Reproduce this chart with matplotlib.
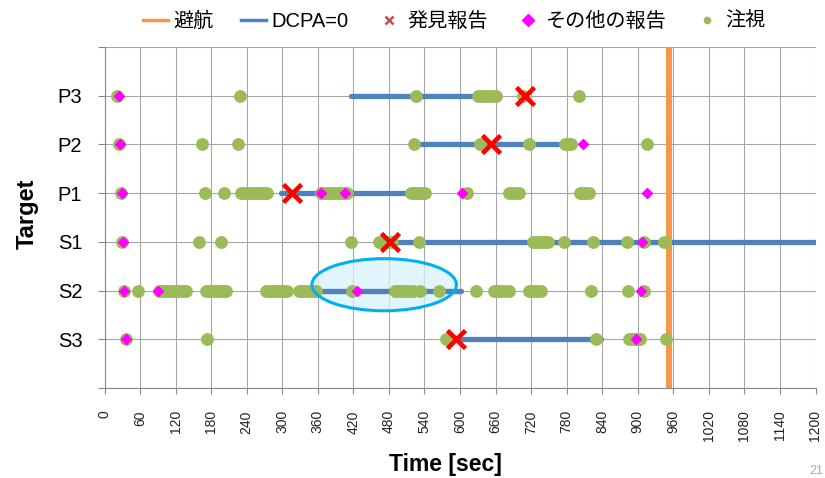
import matplotlib
matplotlib.use("Agg")
import matplotlib.pyplot as plt
from matplotlib.patches import Ellipse
from matplotlib.lines import Line2D

plt.rcParams['font.family'] = ['Liberation Sans', 'Noto Sans CJK JP', 'DejaVu Sans']

# ---------------- data ----------------
targets = ['S3', 'S2', 'S1', 'P1', 'P2', 'P3']
xticks = list(range(0, 1201, 60))

avoid_time = 952

dcpa_start = {'P3': 416, 'P2': 535, 'P1': 298, 'S1': 492, 'S2': 357, 'S3': 593}
dcpa_end = {'P3': 660, 'P2': 779, 'P1': 542, 'S1': 1200, 'S2': 601, 'S3': 838}

found_report = {'P3': [710], 'P2': [653], 'P1': [317], 'S1': [482], 'S2': [], 'S3': [593]}

other_report = {
    'P3': [25],
    'P2': [26, 808],
    'P1': [29, 365, 406, 604, 915],
    'S1': [31, 907],
    'S2': [33, 90, 426, 905],
    'S3': [36, 897],
}

watch = {
    'P3': [21, 228, 525, 630, 636, 642, 648, 654, 660, 707, 801],
    'P2': [25, 164, 226, 522, 634, 717, 777, 782, 788, 915],
    'P1': [28, 169, 201, 231, 236, 241, 246, 251, 256, 261, 266, 271, 275,
           365, 370, 375, 380, 385, 390, 395, 400, 405, 409,
           517, 522, 527, 532, 537, 541, 611, 682, 688, 694, 700,
           803, 808, 813, 817],
    'S1': [30, 159, 197, 416, 463, 468, 473, 478, 485, 530, 723, 728, 733, 738,
           743, 748, 776, 824, 882, 910, 945],
    'S2': [33, 56, 92, 97, 102, 107, 112, 117, 122, 127, 132, 137,
           172, 177, 182, 187, 192, 197, 202, 205,
           273, 278, 283, 288, 293, 298, 303, 308,
           329, 334, 339, 344, 349, 354, 357, 418,
           491, 496, 501, 506, 511, 516, 520, 532, 564, 627,
           658, 664, 670, 676, 683, 717, 722, 727, 732, 737,
           821, 883, 911],
    'S3': [36, 173, 576, 830, 885, 890, 895, 900, 904, 947],
}

# ---------------- figure ----------------
W, H = 825, 478
fig = plt.figure(figsize=(W / 100, H / 100), dpi=100)
left, right, top, bottom = 104.5, 815.5, 47, 388
ax = fig.add_axes([left / W, 1 - bottom / H, (right - left) / W, (bottom - top) / H])

ypos = {t: i + 1 for i, t in enumerate(targets)}

ax.set_xlim(0, 1200)
ax.set_ylim(0, 7)
ax.set_xticks(xticks)
ax.set_xticklabels([str(v) for v in xticks], rotation=90, fontsize=10, color='#222222')
ax.set_yticks(range(0, 8))
ax.set_yticklabels([''] + targets + [''], fontsize=14.5)
ax.tick_params(axis='x', length=4, width=0.8, color='#888888', pad=12)
ax.tick_params(axis='y', length=5, width=0.8, color='#888888', pad=11)
ax.grid(True, color='#A6A6A6', lw=0.8, zorder=0)
ax.set_axisbelow(True)
for s in ['top', 'right']:
    ax.spines[s].set_visible(False)
for s in ['left', 'bottom']:
    ax.spines[s].set_color('#888888')
    ax.spines[s].set_linewidth(0.8)

# ellipse highlight
ell = Ellipse((472, 2.12), width=244, height=1.07, facecolor='#D9F1FB', alpha=0.75,
              edgecolor='none', zorder=2)
ax.add_patch(ell)
ell2 = Ellipse((472, 2.12), width=244, height=1.07, facecolor='none',
               edgecolor='#00B0F0', lw=2.2, zorder=8)
ax.add_patch(ell2)

blue = '#4F81BD'
orange = '#F79646'
green = '#9BBB59'
magenta = '#FF00FF'

for t in targets:
    y = ypos[t]
    ax.plot([dcpa_start[t], dcpa_end[t]], [y, y], color=blue, lw=3.8,
            solid_capstyle='round', zorder=3)

ax.axvline(avoid_time, color=orange, lw=4.3, zorder=4)

for t in targets:
    y = ypos[t]
    ax.plot(watch[t], [y] * len(watch[t]), 'o', ms=8.2, color=green, mec=green,
            ls='none', zorder=5)
    ax.plot(other_report[t], [y] * len(other_report[t]), 'D', ms=5.6, color=magenta,
            mec=magenta, ls='none', zorder=6)
    if found_report[t]:
        ax.plot(found_report[t], [y] * len(found_report[t]), 'x', ms=13, mew=3.3,
                color='#FF0000', ls='none', zorder=7)

ax.set_ylabel('Target', fontsize=17, fontweight='bold')
ax.yaxis.set_label_coords(-0.093, 0.51)
fig.text(445 / W, 1 - 465 / H, 'Time [sec]', ha='center', va='center', fontsize=16.5,
         fontweight='bold')

fig.text(823 / W, 1 - 471 / H, '21', ha='right', va='center', fontsize=9, color='#AAAAAA')

handles = [
    Line2D([], [], color=orange, lw=2.5),
    Line2D([], [], color=blue, lw=2.5),
    Line2D([], [], marker='x', color='#C0504D', ls='none', ms=6, mew=1.8),
    Line2D([], [], marker='D', color=magenta, ls='none', ms=6),
    Line2D([], [], marker='o', color=green, ls='none', ms=4.5),
]
labels = ['避航', 'DCPA=0', '発見報告', 'その他の報告', '注視']
fig.legend(handles, labels, loc='center', bbox_to_anchor=(454 / W, 1 - 21 / H), ncol=5,
           frameon=False, fontsize=14.5, handlelength=1.25, handletextpad=0.25,
           columnspacing=1.4, borderaxespad=0)

fig.savefig('out.png', dpi=100)
